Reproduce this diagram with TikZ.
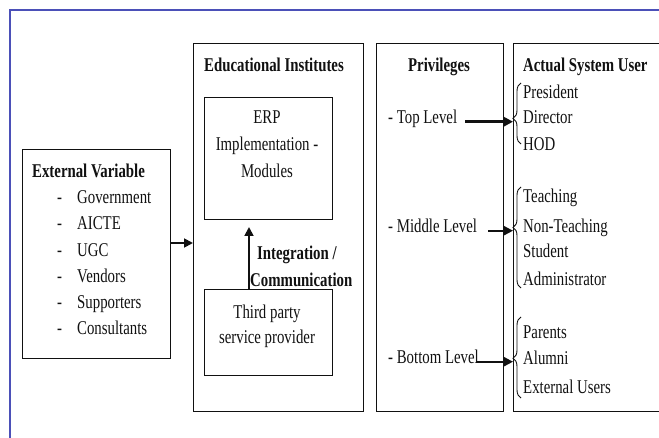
\documentclass[tikz,border=0pt]{standalone}
\usepackage{fontspec}
\setmainfont[FakeStretch=0.76]{Liberation Serif}
\usetikzlibrary{arrows.meta,positioning,calc,decorations.pathreplacing}
\definecolor{frameblue}{HTML}{4B50B8}
\definecolor{ink}      {HTML}{111111}

\begin{document}
\begin{tikzpicture}[x=1pt,y=-1pt,
  box/.style={draw=ink, line width=1pt, anchor=north west, inner sep=0pt},
  txt/.style={font=\fontsize{19.5}{22}\selectfont, text=ink, inner sep=0pt, anchor=base west},
  head/.style={txt, font=\fontsize{19.5}{22}\selectfont\bfseries},
  arr/.style={ink, line width=1.8pt, -{Triangle[length=9pt,width=9pt]}},
  grp/.style={ink, line width=0.9pt, decorate,
              decoration={brace, amplitude=8pt, aspect=#1}}]
  \useasboundingbox (0,0) rectangle (659,438);
  \clip (0,0) rectangle (659,438);
  \draw[frameblue, line width=1.6pt] (10,438) -- (10,10) -- (659,10);

  % boxes
  \node[box, minimum width=148pt, minimum height=209pt] (ext)   at (22,149)  {};
  \node[box, minimum width=170pt, minimum height=368pt] (edu)   at (193,43)  {};
  \node[box, minimum width=128pt, minimum height=122pt] (erp)   at (204,97)  {};
  \node[box, minimum width=128pt, minimum height=86pt]  (third) at (204,289) {};
  \node[box, minimum width=127pt, minimum height=368pt] (priv)  at (376,43)  {};
  \node[box, minimum width=170pt, minimum height=368pt] (usr)   at (513,43)  {};

  % external variables
  \node[head] (exttitle) at (32,178) {External Variable};
  \node[txt] (d1) at (57,204) {-};  \node[txt] (gov)  at (77,204) {Government};
  \node[txt] (d2) at (57,230) {-};  \node[txt] (aicte) at (77,230) {AICTE};
  \node[txt] (d3) at (57,257) {-};  \node[txt] (ugc)  at (77,257) {UGC};
  \node[txt] (d4) at (57,283) {-};  \node[txt] (vend) at (77,283) {Vendors};
  \node[txt] (d5) at (57,309) {-};  \node[txt] (supp) at (77,309) {Supporters};
  \node[txt] (d6) at (57,335) {-};  \node[txt] (cons) at (77,335) {Consultants};

  % institute
  \node[head, anchor=base] (edutitle) at (274,72) {Educational Institutes};
  \node[txt, anchor=base] (erp1) at (267,124) {ERP};
  \node[txt, anchor=base] (erp2) at (267,151) {Implementation -};
  \node[txt, anchor=base] (erp3) at (267,178) {Modules};
  \node[txt, anchor=base] (tp1) at (267,319) {Third party};
  \node[txt, anchor=base] (tp2) at (267,344) {service provider};
  \node[head] (integ) at (257,260) {Integration /};
  \node[head] (comm)  at (250,287) {Communication};

  % privileges
  \node[head, anchor=base] (privtitle) at (439,72) {Privileges};
  \node[txt] (top) at (388,124) {- Top Level};
  \node[txt] (mid) at (388,233) {- Middle Level};
  \node[txt] (bot) at (388,364) {- Bottom Level};

  % users
  \node[head] (usrtitle) at (523,72) {Actual System User};
  \node[txt] (pres)  at (523,99)  {President};
  \node[txt] (dir)   at (523,124) {Director};
  \node[txt] (hod)   at (523,151) {HOD};
  \node[txt] (teach) at (523,203) {Teaching};
  \node[txt] (nont)  at (523,233) {Non-Teaching};
  \node[txt] (stud)  at (523,258) {Student};
  \node[txt] (admin) at (523,286) {Administrator};
  \node[txt] (par)   at (523,339) {Parents};
  \node[txt] (alum)  at (523,365) {Alumni};
  \node[txt] (extu)  at (523,393) {External Users};

  % braces
  \draw[grp=0.42] (521,144) -- (521,83);
  \draw[grp=0.60] (521,288) -- (521,187);
  \draw[grp=0.49] (521,398) -- (521,317);

  % connectors
  \coordinate (join) at (0,243);
  \draw[arr] (ext.east |- join) -- (edu.west |- join);
  \coordinate (intx) at (249,227);
  \draw[arr] (third.north -| intx) -- (intx);
  \path (top.mid east) ++(8,0) coordinate (topA);
  \path (mid.mid east) ++(11,0) coordinate (midA);
  \path (bot.mid east) ++(-3,0) coordinate (botA);
  \draw[arr, line width=3pt] (topA) -- (topA -| usr.west);
  \draw[arr] (midA) -- (midA -| usr.west);
  \draw[arr] (botA) -- (botA -| usr.west);
\end{tikzpicture}
\end{document}
